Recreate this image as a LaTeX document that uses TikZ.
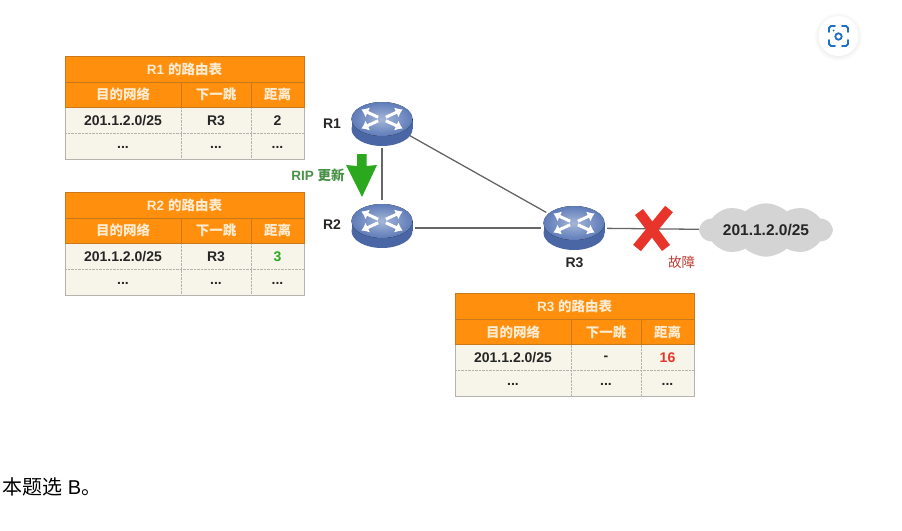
\documentclass[tikz,border=0pt]{standalone}
\usepackage{fontspec}
\setmainfont{Liberation Sans}
\newfontfamily\cjk{Noto Sans CJK SC}
\usetikzlibrary{shapes.geometric,shapes.symbols,arrows.meta}

\definecolor{headorange}{HTML}{FF8F0C}
\definecolor{headline}{HTML}{C9781A}
\definecolor{headtint}{HTML}{FDEBD2}
\definecolor{rowcream}{HTML}{F7F5E9}
\definecolor{rowline}{HTML}{B4B4AE}
\definecolor{updgreen}{HTML}{2BA81E}
\definecolor{updtext}{HTML}{4A9148}
\definecolor{failred}{HTML}{E8352B}
\definecolor{failtext}{HTML}{BF3A30}
\definecolor{iconblue}{HTML}{1F6FC4}
\definecolor{routerside}{HTML}{4A66A4}
\definecolor{routerlight}{HTML}{A4B6D8}
\definecolor{routertop}{HTML}{5F7CB8}
\definecolor{cloudgrey}{HTML}{D4D4D4}

\tikzstyle{headtext}=[text=headtint, font=\fontsize{13.5}{15}\selectfont\bfseries, inner sep=0pt]
\tikzstyle{celltext}=[text=black!85, font=\fontsize{14}{16}\selectfont\bfseries, inner sep=0pt]
\tikzstyle{routerlabel}=[text=black!85, font=\fontsize{14}{16}\selectfont\bfseries, inner sep=0pt]
\tikzstyle{routerspot}=[ellipse, inner sep=0pt, minimum width=66pt, minimum height=56pt]
\tikzstyle{link}=[draw=black!60, line width=1.3pt]
\tikzstyle{routerarrow}=[draw=white, line width=3pt, -{Latex[length=7pt,width=11pt]}]

\tikzset{router/.pic={
  \fill[routerside] (0,5) ellipse [x radius=30.5, y radius=17];
  \fill[routerside] (-30.5,-5) rectangle (30.5,5);
  \fill[inner color=routerlight, outer color=routertop] (0,-5) ellipse [x radius=30.5, y radius=17];
  \begin{scope}[shift={(0,-5)}, yscale=0.55]
    \foreach \a in {40,220,140,320}{\draw[routerarrow] (\a:5) -- (\a:27);}
  \end{scope}
}}

% name, left, top, title, next hop, distance
\newcommand{\routetable}[6]{
\begin{scope}[shift={(#2,#3)}]
  \fill[rowcream] (0,51) rectangle (239,103);
  \fill[headorange] (0,0) rectangle (239,51);
  \draw[rowline,densely dotted] (0,77) -- (239,77);
  \draw[rowline,densely dotted] (116,51) -- (116,103);
  \draw[rowline,densely dotted] (186,51) -- (186,103);
  \draw[rowline,line width=0.9pt] (0,51) -- (0,103) -- (239,103) -- (239,51);
  \draw[headline,line width=0.8pt] (0,26) -- (239,26);
  \draw[headline,line width=0.8pt] (0,51) -- (239,51);
  \draw[headline,line width=0.8pt] (116,26) -- (116,51);
  \draw[headline,line width=0.8pt] (186,26) -- (186,51);
  \draw[headline,line width=0.6pt] (0,0) rectangle (239,51);
  \node[headtext] (#1title) at (119.5,13) {#4 {\cjk 的路由表}};
  \node[headtext] (#1dest) at (58,38.5) {\cjk 目的网络};
  \node[headtext] (#1next) at (151,38.5) {\cjk 下一跳};
  \node[headtext] (#1dist) at (212.5,38.5) {\cjk 距离};
  \node[celltext] (#1a) at (58,64.5) {201.1.2.0/25};
  \node[celltext] (#1b) at (151,64.5) {#5};
  \node[celltext] (#1c) at (212.5,64.5) {#6};
  \node[celltext] (#1d) at (58,91) {...};
  \node[celltext] (#1e) at (151,91) {...};
  \node[celltext] (#1f) at (212.5,91) {...};
\end{scope}
}

\begin{document}
\begin{tikzpicture}[x=1pt,y=-1pt]
\useasboundingbox (0,0) rectangle (902,530);
\fill[white] (0,0) rectangle (902,530);

\routetable{ta}{65}{56}{R1}{R3}{2}
\routetable{tb}{65}{192}{R2}{R3}{\textcolor{updgreen}{3}}
\routetable{tc}{455}{293.5}{R3}{-}{\textcolor{failred}{16}}

\node[routerspot] (r1) at (382,120) {};
\node[routerspot] (r2) at (382,228) {};
\node[routerspot] (r3) at (574,228) {};
\node[cloud, cloud puffs=10, cloud puff arc=85, aspect=3, fill=cloudgrey, inner sep=0pt,
  minimum width=132pt, minimum height=46pt, celltext, font=\fontsize{15.5}{17}\selectfont\bfseries] (net) at (766,230) {201.1.2.0/25};

\draw[link] (r1) -- (r2);
\draw[link] (r1) -- (r3);
\draw[link] (r2) -- (r3);
\draw[link] (r3) -- (net);

\pic at (382,124) {router};
\pic at (382,226) {router};
\pic at (574,228) {router};

\node[routerlabel] (r1label) at (332,123.5) {R1};
\node[routerlabel] (r2label) at (332,225) {R2};
\node[routerlabel] (r3label) at (574.5,263) {R3};

% update arrow
\fill[updgreen] (357,154) -- (366.5,154) -- (366.5,166) -- (377,165) -- (362,197) -- (346,165) -- (357,166) -- cycle;
\node[text=updtext, font=\fontsize{13.5}{15}\selectfont\bfseries, inner sep=0pt] (riplabel) at (318,175) {RIP {\cjk 更新}};

% broken link
\draw[failred, line width=10pt] (669,209) -- (637,248);
\draw[failred, line width=10pt] (639,212) -- (666,248);
\node[text=failtext, font=\cjk\fontsize{13.5}{15}\selectfont, inner sep=0pt] (faillabel) at (681.5,262.5) {故障};

% scan button
\foreach \r in {24,23,...,20}{
  \fill[black, opacity=0.012] (838.5,37) circle (\r);
}
\fill[white] (838.5,36) circle (20);
\foreach \sx/\sy in {1/1,-1/1,1/-1,-1/-1}{
  \begin{scope}[shift={(838.5,36)}, xscale=\sx, yscale=\sy]
    \draw[iconblue, line width=1.8pt, line cap=round] (9.5,-4) -- (9.5,-8) -- (7.5,-10) -- (3.5,-10);
  \end{scope}
}
\draw[iconblue, line width=1.8pt] (838.5,36.5) circle (3.2);
\fill[iconblue] (833.5,30.5) circle (1);

\node[anchor=west, text=black, font=\fontsize{20}{22}\selectfont, inner sep=0pt] (answer) at (2,486.5) {{\cjk 本题选} B{\cjk 。}};
\end{tikzpicture}
\end{document}
